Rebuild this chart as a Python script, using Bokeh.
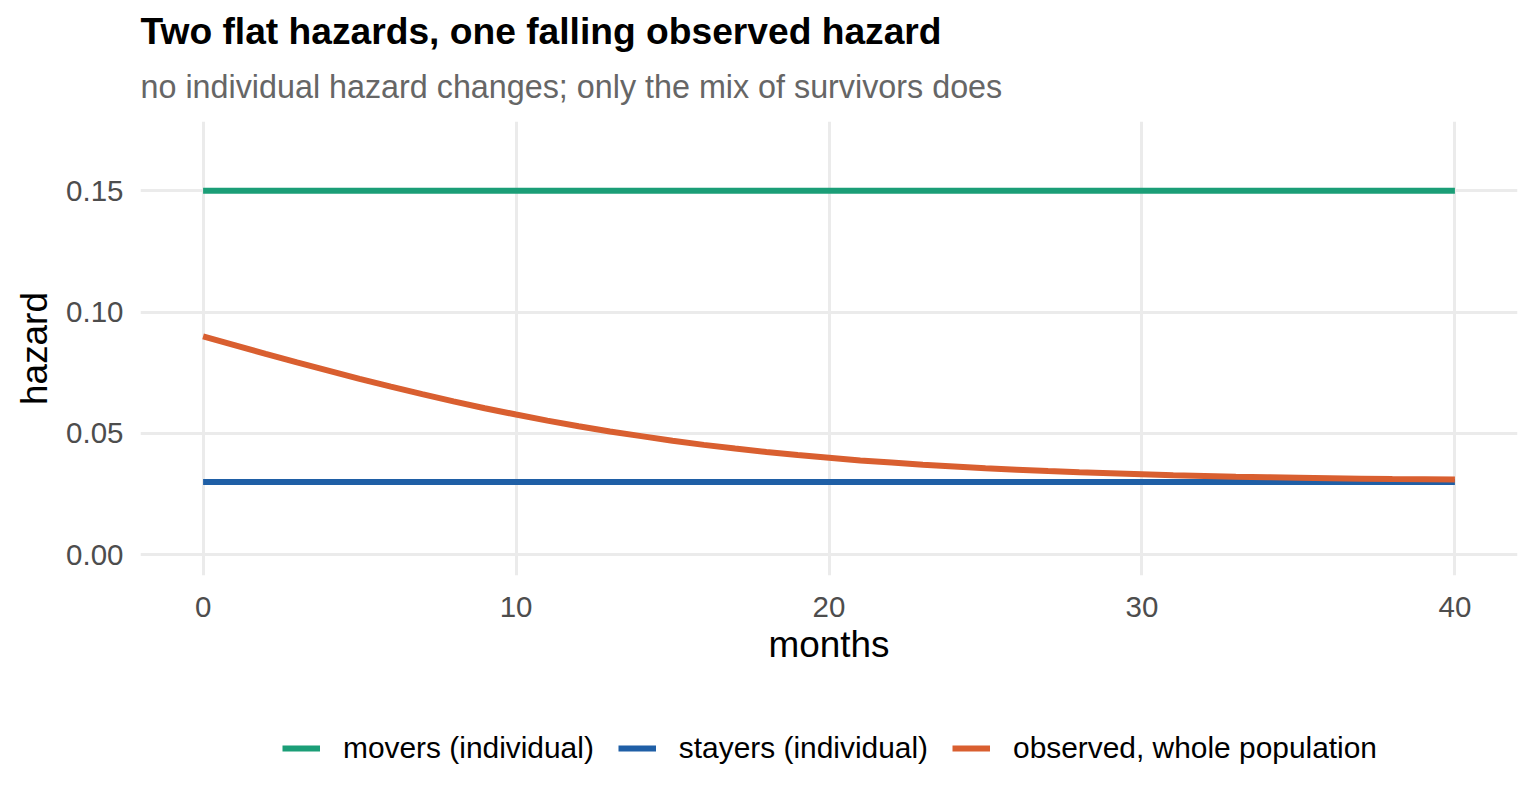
from bokeh.plotting import figure
from bokeh.models import Title, Legend, LegendItem, FixedTicker, PrintfTickFormatter, Range1d
from bokeh.layouts import column
from bokeh.embed import file_html
from bokeh.resources import INLINE

# ---- data ----
months = list(range(0, 41))
observed = [0.0900, 0.0864, 0.0828, 0.0793, 0.0759, 0.0725, 0.0693, 0.0662, 0.0632, 0.0604,
            0.0578, 0.0553, 0.0530, 0.0508, 0.0489, 0.0470, 0.0453, 0.0438, 0.0424, 0.0411,
            0.0400, 0.0389, 0.0380, 0.0371, 0.0364, 0.0357, 0.0351, 0.0345, 0.0340, 0.0336,
            0.0332, 0.0328, 0.0325, 0.0322, 0.0320, 0.0318, 0.0316, 0.0314, 0.0312, 0.0311,
            0.0310]
months_flat = [0, 40]
movers = [0.15, 0.15]
stayers = [0.03, 0.03]
x_ticks = [0, 10, 20, 30, 40]
y_ticks = [0.0, 0.05, 0.10, 0.15]
labels = ["movers (individual)", "stayers (individual)", "observed, whole population"]
colors = ["#1B9E77", "#1F5FA6", "#D95F30"]

FONT = "Liberation Sans"
H1 = 700

p = figure(width=1520, height=H1, output_backend="svg", toolbar_location=None,
           title=None,
           x_range=Range1d(-2, 42), y_range=Range1d(-0.0085, 0.1785),
           min_border_left=140, min_border_right=3, min_border_top=121,
           min_border_bottom=H1 - 575)
p.background_fill_color = "white"
p.border_fill_color = "white"
p.outline_line_color = None

r1 = p.line(months_flat, movers, line_color=colors[0], line_width=6)
r2 = p.line(months_flat, stayers, line_color=colors[1], line_width=6)
r3 = p.line(months, observed, line_color=colors[2], line_width=6)

sub = Title(text="no individual hazard changes; only the mix of survivors does",
            text_font=FONT, text_font_size="32.3px", text_font_style="normal",
            text_color="#666666", align="left", standoff=34)
p.add_layout(sub, "above")
main = Title(text="Two flat hazards, one falling observed hazard",
             text_font=FONT, text_font_size="37.2px", text_font_style="bold",
             text_color="black", align="left", standoff=-5)
p.add_layout(main, "above")

p.xaxis.ticker = FixedTicker(ticks=x_ticks)
p.yaxis.ticker = FixedTicker(ticks=y_ticks)
p.yaxis.formatter = PrintfTickFormatter(format="%.2f")
for ax in (p.xaxis, p.yaxis):
    ax.axis_line_color = None
    ax.major_tick_line_color = None
    ax.minor_tick_line_color = None
    ax.major_label_text_font = FONT
    ax.major_label_text_font_size = "29.5px"
    ax.major_label_text_color = "#4D4D4D"
    ax.axis_label_text_font = FONT
    ax.axis_label_text_font_size = "36.9px"
    ax.axis_label_text_font_style = "normal"
    ax.axis_label_text_color = "black"
p.xaxis.axis_label = "months"
p.yaxis.axis_label = "hazard"
p.xaxis.major_label_standoff = 15
p.xaxis.axis_label_standoff = 4
p.yaxis.major_label_standoff = 11
p.yaxis.axis_label_standoff = 8

for g in (p.xgrid, p.ygrid):
    g.grid_line_color = "#EBEBEB"
    g.grid_line_width = 3
    g.minor_grid_line_color = None

# legend strip below the plot (its own ranges keep the key lines out of view)
p2 = figure(width=1520, height=100, output_backend="svg", toolbar_location=None,
            title=None, x_axis_type=None, y_axis_type=None,
            x_range=Range1d(100, 101), y_range=Range1d(100, 101),
            min_border_left=0, min_border_right=0, min_border_top=0, min_border_bottom=0)
p2.outline_line_color = None
p2.xgrid.visible = False
p2.ygrid.visible = False
k1 = p2.line(months_flat, movers, line_color=colors[0], line_width=6)
k2 = p2.line(months_flat, stayers, line_color=colors[1], line_width=6)
k3 = p2.line(months, observed, line_color=colors[2], line_width=6)

legend = Legend(items=[LegendItem(label=labels[0], renderers=[k1]),
                       LegendItem(label=labels[1], renderers=[k2]),
                       LegendItem(label=labels[2], renderers=[k3])],
                orientation="horizontal", location=(142, 35),
                label_text_font=FONT, label_text_font_size="29.9px", label_text_color="black",
                glyph_width=38, glyph_height=30, label_standoff=23, spacing=24,
                padding=0, margin=0, border_line_color=None, background_fill_alpha=0)
p2.add_layout(legend, "center")

open("out.html", "w").write(file_html(column(p, p2, spacing=0), INLINE))
